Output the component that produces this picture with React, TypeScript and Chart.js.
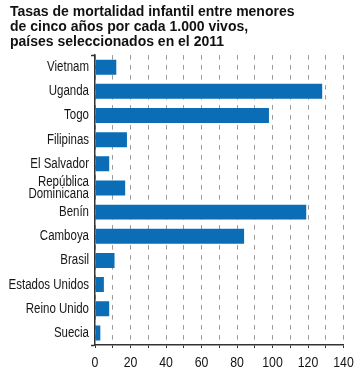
import React, { useEffect, useRef } from 'react';
import { Chart, registerables } from 'chart.js';

Chart.register(...registerables);

const titleLines = [
  'Tasas de mortalidad infantil entre menores',
  'de cinco años por cada 1.000 vivos,',
  'países seleccionados en el 2011',
];

const categories: (string | string[])[] = [
  'Vietnam',
  'Uganda',
  'Togo',
  'Filipinas',
  'El Salvador',
  ['República', 'Dominicana'],
  'Benín',
  'Camboya',
  'Brasil',
  'Estados Unidos',
  'Reino Unido',
  'Suecia',
];

const mortality = [12, 128, 98, 18, 8, 17, 119, 84, 11, 5, 8, 3];

const xMin = 0;
const xMax = 140;
const gridStep = 10;
const labelStep = 20;

const BASE_FONT = "'Liberation Sans', Arial, sans-serif";
const NARROW_SCALE = 0.82;

// Draws the axis labels in a condensed form (horizontally compressed Liberation Sans),
// positioned through the chart's own scales.
const narrowLabels = {
  id: 'narrowLabels',
  afterDraw(chart: any) {
    const { ctx, chartArea } = chart;
    const ys = chart.scales.y;
    const xs = chart.scales.x;
    ctx.save();
    ctx.fillStyle = '#151515';
    ctx.textBaseline = 'alphabetic';

    // category labels
    ctx.font = `14px ${BASE_FONT}`;
    ctx.textAlign = 'right';
    const rightX = chartArea.left - 6;
    categories.forEach((lab, i) => {
      const py = ys.getPixelForTick(i);
      const lines = Array.isArray(lab) ? lab : [lab];
      const lh = 11.6;
      lines.forEach((t, j) => {
        const by = py + 4 + (j - (lines.length - 1) / 2) * lh;
        ctx.save();
        ctx.translate(rightX, by);
        ctx.scale(NARROW_SCALE, 1);
        ctx.fillText(t, 0, 0);
        ctx.restore();
      });
    });

    // value labels
    ctx.font = `15px ${BASE_FONT}`;
    ctx.textAlign = 'center';
    xs.ticks.forEach((tk: any) => {
      const v = Number(tk.value);
      if (v % labelStep !== 0) return;
      const px = xs.getPixelForValue(v);
      ctx.save();
      ctx.translate(px, chartArea.bottom + 21.5);
      ctx.scale(NARROW_SCALE, 1);
      ctx.fillText(String(v), 0, 0);
      ctx.restore();
    });
    ctx.restore();
  },
};

export default function App() {
  const ref = useRef<HTMLCanvasElement | null>(null);

  useEffect(() => {
    if (!ref.current) return;
    const chart = new Chart(ref.current, {
      type: 'bar',
      data: {
        labels: categories as any,
        datasets: [
          {
            data: mortality,
            backgroundColor: '#0A6DB6',
            borderWidth: 0,
            barPercentage: 0.62,
            categoryPercentage: 1,
          },
        ],
      },
      options: {
        animation: false,
        responsive: false,
        devicePixelRatio: 1,
        indexAxis: 'y',
        layout: { padding: { left: 10, right: 20.5, top: 0, bottom: 0 } },
        plugins: {
          legend: { display: false },
          tooltip: { enabled: false },
          title: {
            display: true,
            text: titleLines,
            align: 'start',
            color: '#111',
            font: { family: BASE_FONT, size: 14, weight: 'bold', lineHeight: 1.05 },
            padding: { top: 5, bottom: 6 },
          },
        },
        scales: {
          x: {
            min: xMin,
            max: xMax,
            ticks: {
              stepSize: gridStep,
              autoSkip: false,
              display: false,
            },
            grid: {
              color: '#9a9a9a',
              lineWidth: 1,
              drawTicks: true,
              tickLength: 3,
              tickColor: '#333',
              tickWidth: 1,
              tickBorderDash: [],
            },
            border: { display: true, color: '#333', width: 1.5, dash: [4.5, 5.5] },
            afterFit: (s: any) => {
              s.height = 31;
            },
          },
          y: {
            ticks: { display: false, autoSkip: false },
            grid: {
              display: true,
              offset: true,
              drawOnChartArea: false,
              drawTicks: true,
              tickLength: 4,
              tickWidth: 1.5,
              tickColor: (ctx: any) =>
                ctx.index === 0 || ctx.index === undefined || ctx.index >= categories.length ? '#333' : 'rgba(0,0,0,0)',
            },
            border: { display: true, color: '#333', width: 1.5 },
            afterFit: (s: any) => {
              s.width = 85;
            },
          },
        },
      },
      plugins: [narrowLabels],
    });
    return () => chart.destroy();
  }, []);

  return (
    <div style={{ position: 'fixed', left: 0, top: 0, width: 364, height: 376, background: '#fff' }}>
      <canvas ref={ref} width={364} height={376} style={{ display: 'block', width: 364, height: 376 }} />
    </div>
  );
}
